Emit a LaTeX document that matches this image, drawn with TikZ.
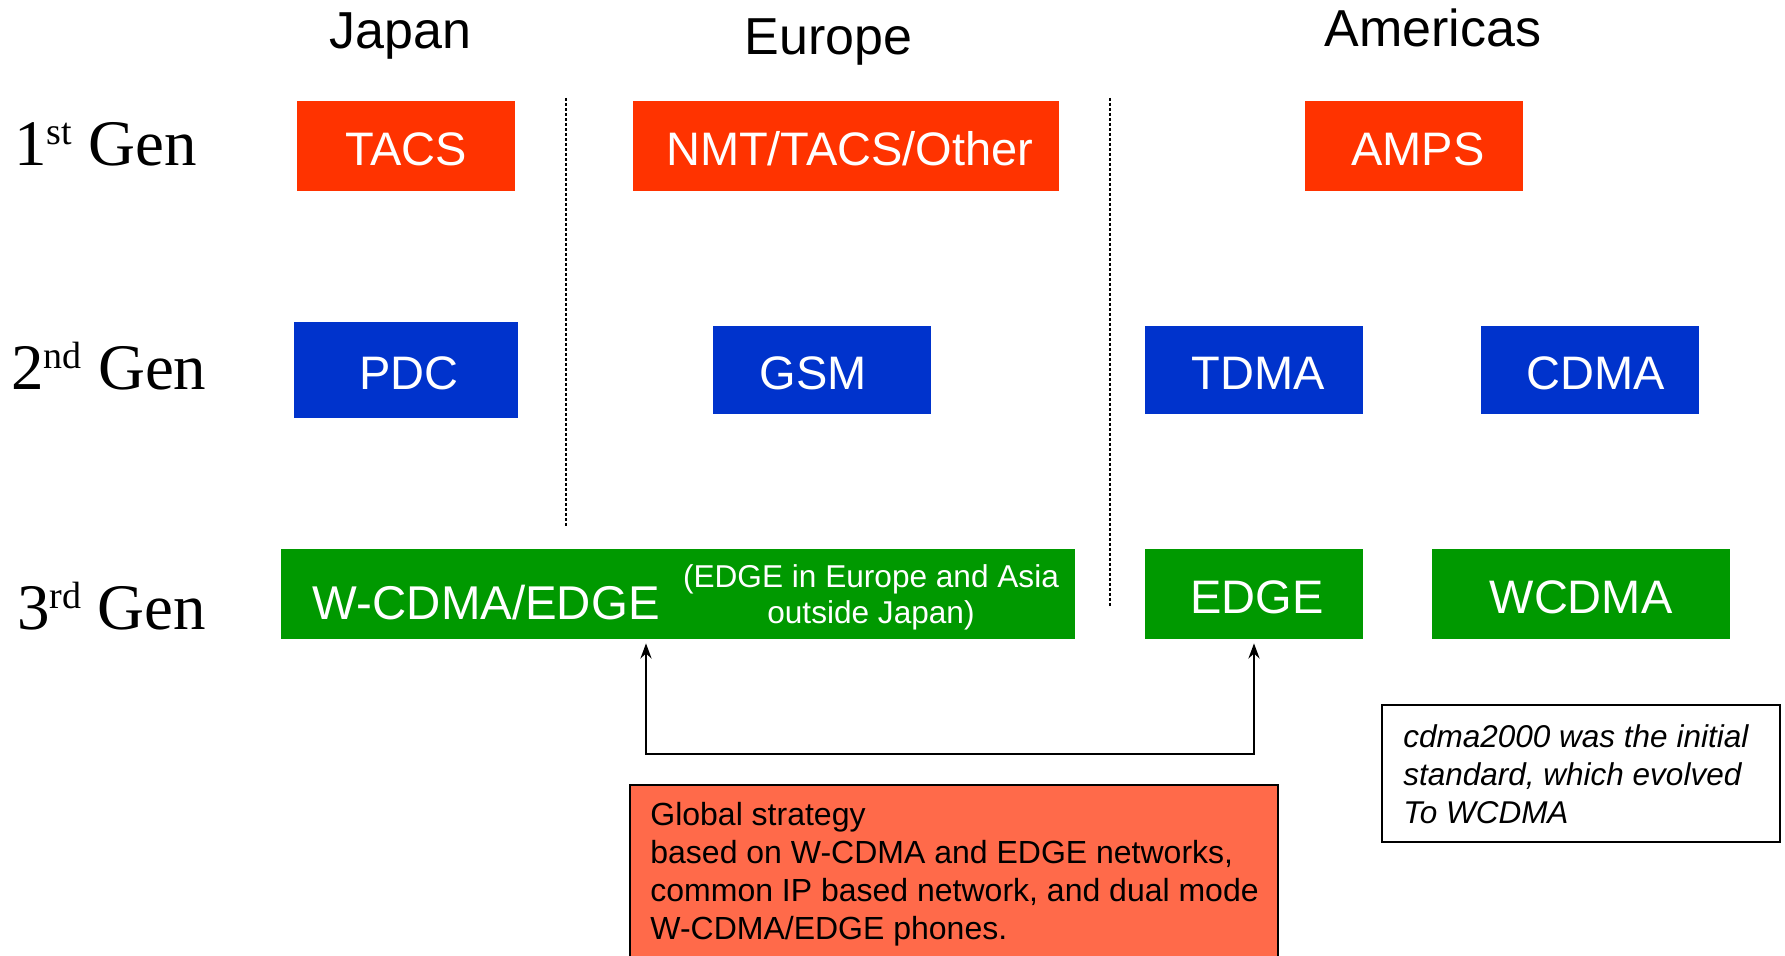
\documentclass[tikz,border=0pt]{standalone}
\usepackage{fontspec}
\setmainfont{Liberation Sans}
\newfontfamily\genfont{Liberation Serif}
\usetikzlibrary{arrows.meta}
\definecolor{firstgen}{HTML}{FF3300}
\definecolor{secondgen}{HTML}{0033CC}
\definecolor{thirdgen}{HTML}{009900}
\definecolor{strategyfill}{HTML}{FF6A4A}
\newcommand\gensup[1]{\raisebox{10.5pt}{\fontsize{19pt}{21pt}\selectfont #1}}

\begin{document}
\begin{tikzpicture}[x=0.5pt, y=-0.5pt,
  stdbox/.style={inner sep=0pt, text=white, minimum width=109pt, minimum height=45pt,
    text height=20pt, text depth=0pt, font=\fontsize{23.5pt}{28pt}\selectfont},
  gen1/.style={stdbox, fill=firstgen},
  gen2/.style={stdbox, fill=secondgen, minimum height=44pt},
  gen3/.style={stdbox, fill=thirdgen},
  region/.style={anchor=base, inner sep=0pt, font=\fontsize{26pt}{30pt}\selectfont},
  genlabel/.style={anchor=base west, inner sep=0pt, font=\genfont\fontsize{32.5pt}{36pt}\selectfont},
  divider/.style={line width=1.3pt, dash pattern=on 1.3pt off 1.2pt},
  link/.style={line width=1.25pt,
    {Stealth[length=7.5pt,width=5.5pt]}-{Stealth[length=7.5pt,width=5.5pt]},
    shorten <=2pt, shorten >=2pt},
]
\clip (0,0) rectangle (1785,956);

% region headings
\node[region] (japan) at (400.5,48.3) {Japan};
\node[region] (europe) at (828.5,55) {Europe};
\node[region] (americas) at (1433,47) {Americas};

% generation labels
\node[genlabel] (g1) at (14,165.7) {1\gensup{st} Gen};
\node[genlabel] (g2) at (11,390) {2\gensup{nd} Gen};
\node[genlabel] (g3) at (17,629.5) {3\gensup{rd} Gen};

% region dividers
\draw[divider] (566,98) -- (566,527);
\draw[divider] (1110,98) -- (1110,607);

% first generation
\node[gen1] (tacs) at (406,146) {TACS};
\node[gen1, minimum width=213.25pt] (nmt) at (845.75,146) {\hspace*{4pt}NMT/TACS/Other};
\node[gen1] (amps) at (1414,146) {\hspace*{4pt}AMPS};

% second generation
\node[gen2, minimum width=112pt, minimum height=48pt] (pdc) at (406,370) {\hspace*{3pt}PDC};
\node[gen2] (gsm) at (822,370) {GSM\hspace*{9pt}};
\node[gen2] (tdma) at (1253.5,370) {\hspace*{4.5pt}TDMA};
\node[gen2] (cdma) at (1589.5,370) {\hspace*{6.5pt}CDMA};

% third generation
\node[gen3, minimum width=397pt] (wcdmaedge) at (678,594) {};
\node[anchor=base west, inner sep=0pt, text=white, font=\fontsize{23.7pt}{28pt}\selectfont]
  (wcdmaedgetext) at (312.5,620) {W-CDMA/EDGE};
\node[anchor=north, inner sep=0pt, align=center, text=white,
  font=\fontsize{15.8pt}{18.25pt}\selectfont] (edgenote) at (871,563)
  {\rule{0pt}{12pt}(EDGE in Europe and Asia\\outside Japan)};
\node[gen3] (edge) at (1254,594) {\hspace*{3pt}EDGE};
\node[gen3, minimum width=149pt] (wcdma) at (1581,594) {WCDMA};

% joint strategy link
\coordinate (linkleft) at (646,754);
\coordinate (linkright) at (1254,754);
\draw[link] (wcdmaedge.south -| linkleft) -- (linkleft) -- (linkright) -- (edge.south);

% global strategy box
\draw[fill=strategyfill, line width=1pt] (629.5,785) rectangle (1278,1000);
\node[anchor=north west, inner sep=0pt, align=left,
  font=\fontsize{16pt}{19pt}\selectfont] (strategy) at (650,801)
  {\rule{0pt}{12pt}Global strategy\\
   based on W-CDMA and EDGE networks,\\
   common IP based network, and dual mode\\
   W-CDMA/EDGE phones.};

% cdma2000 note
\node[draw, line width=1pt, fill=white, minimum width=199.15pt, minimum height=68.5pt,
  inner sep=0pt] (notebox) at (1580.85,773.5) {};
\node[anchor=north west, inner sep=0pt, align=left,
  font=\itshape\fontsize{15.75pt}{19pt}\selectfont] (note) at (1403,723)
  {\rule{0pt}{12pt}cdma2000 was the initial\\
   standard, which evolved\\
   To WCDMA};
\end{tikzpicture}
\end{document}
